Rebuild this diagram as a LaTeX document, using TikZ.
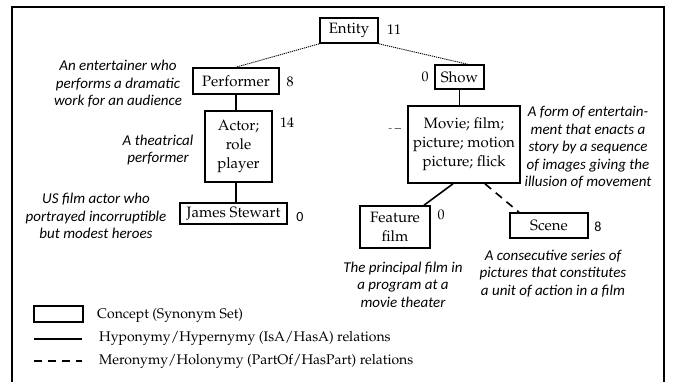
\documentclass[tikz,border=0pt]{standalone}
\usepackage[T1]{fontenc}
\usepackage{fontspec}
\newfontfamily\calib{Carlito}
\newcommand*{\pal}{\fontencoding{T1}\fontfamily{ppl}\selectfont}
\usetikzlibrary{positioning,calc}
\tikzset{
  concept/.style={draw,line width=1.6pt,inner sep=0pt,align=center,
    font=\pal\fontsize{15}{19}\selectfont},
  gloss/.style={align=center,font=\calib\itshape\fontsize{15}{17.5}\selectfont},
  num/.style={inner sep=0pt,font=\pal\fontsize{14}{16}\selectfont},
  snum/.style={inner sep=0pt,font=\calib\fontsize{14}{16}\selectfont},
  legtext/.style={anchor=west,inner sep=0pt,font=\pal\fontsize{14}{16}\selectfont},
  isa/.style={line width=1.6pt},
  part/.style={line width=1.6pt,dash pattern=on 8pt off 6pt},
  toplink/.style={line width=0.9pt,dash pattern=on 1.2pt off 0.9pt},
}

\begin{document}
\begin{tikzpicture}[x=1pt,y=-1pt]
\useasboundingbox (0,0) rectangle (675,382);
\draw[line width=2pt] (12,382) -- (12,7) -- (664,7) -- (664,382);
% concepts
\node[concept,minimum width=58pt,minimum height=25pt] (entity) at (349,30.5) {Entity};
\node[concept,minimum width=86pt,minimum height=26pt] (performer) at (236,81) {Performer};
\node[concept,minimum width=49pt,minimum height=24pt] (show) at (459.5,77) {Show};
\node[concept,minimum width=67pt,minimum height=71pt] (actor) at (238.5,146.5) {Actor;\\role\\player};
\node[concept,minimum width=112pt,minimum height=77pt] (movie) at (464,144.5) {Movie; film;\\picture; motion\\picture; flick};
\node[concept,minimum width=107pt,minimum height=21pt] (james) at (233.5,213.5) {James Stewart};
\node[concept,minimum width=70pt,minimum height=42pt] (feature) at (395,227) {Feature\\film};
\node[concept,minimum width=78pt,minimum height=25pt] (scene) at (549,225.5) {Scene};
% counts
\node[num] (entityn) at (394,30) {11};
\node[num] (performern) at (290,82) {8};
\node[num] (shown) at (425,77) {0};
\node[num] (actorn) at (287,123) {14};
\node[snum] (jamesn) at (300,217) {0};
\node[num] (featuren) at (441,215) {0};
\node[snum] (scenen) at (598,227) {8};
\begin{scope}
  \clip (380,124) rectangle (405,129);
  \node[num] (movien) at (394,134) {27};
\end{scope}
% glosses
\node[gloss] (performerg) at (118,84) {An entertainer who\\performs a dramatic\\work for an audience};
\node[gloss] (actorg) at (158,150) {A theatrical\\performer};
\node[gloss] (jamesg) at (96,216) {US film actor who\\portrayed incorruptible\\but modest heroes};
\node[gloss] (movieg) at (588,147.5) {A form of entertain-\\ment that enacts a\\story by a sequence\\of images giving the\\illusion of movement};
\node[gloss] (featureg) at (403,284.5) {The principal film in\\a program at a\\movie theater};
\node[gloss] (sceneg) at (553,273.5) {A consecutive series of\\pictures that constitutes\\a unit of action in a film};
% relations
\draw[toplink] (entity.south west) -- (performer.north);
\draw[toplink] (entity.south east) -- ([xshift=8pt]show.north);
\draw[isa] (performer.south) -- (performer.south |- actor.north);
\draw[isa] (actor.south -| performer.south) -- (james.north -| performer.south);
\draw[isa] (show.south) -- (show.south |- movie.north);
\draw[isa] ([xshift=-11pt]movie.south) -- ([xshift=29pt]feature.north);
\draw[part] ([xshift=21pt]movie.south) -- ([xshift=-30pt]scene.north);
% legend
\node[draw,line width=1.6pt,minimum width=49pt,minimum height=16pt] (legbox) at (58.5,314) {};
\node[legtext] (legconcept) at (97,315) {Concept (Synonym Set)};
\coordinate (legisaA) at (34,339);
\coordinate (legisaB) at (82,339);
\draw[isa] (legisaA) -- (legisaB);
\node[legtext] (legisa) at (99,338) {Hyponymy/Hypernymy (IsA/HasA) relations};
\coordinate (legpartA) at (34,361);
\coordinate (legpartB) at (82,361);
\draw[part] (legpartA) -- (legpartB);
\node[legtext] (legpart) at (99,361) {Meronymy/Holonymy (PartOf/HasPart) relations};
\end{tikzpicture}
\end{document}
